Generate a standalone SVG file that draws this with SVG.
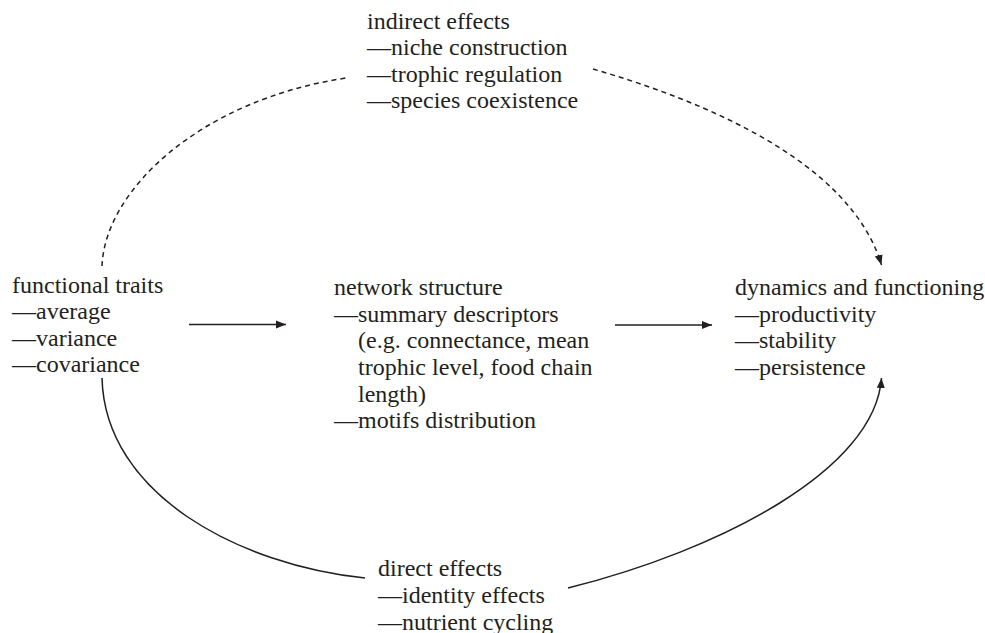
<svg xmlns="http://www.w3.org/2000/svg" width="985" height="633" viewBox="0 0 985 633">
<style>
text{font-family:"Liberation Serif","Times New Roman",serif;font-size:24px;fill:#231f20}
.c{fill:none;stroke:#231f20;stroke-width:1.5}
.d{stroke-dasharray:5,4}
</style>
<defs>
<marker id="ah" viewBox="0 0 10 10" refX="10" refY="5" markerWidth="10" markerHeight="10" markerUnits="userSpaceOnUse" orient="auto">
<path d="M0,1 L10,5 L0,9 Z" fill="#231f20"/>
</marker>
</defs>
<rect width="985" height="633" fill="#fff"/>
<g id="connectors">
<line class="c" x1="189" y1="324.5" x2="286" y2="324.5" marker-end="url(#ah)"/>
<line class="c" x1="615" y1="325" x2="712" y2="325" marker-end="url(#ah)"/>
<path class="c d" d="M102,266 C105,190 200,100 346,78"/>
<path class="c d" d="M593,69 C700,100 850,160 881.5,265" marker-end="url(#ah)"/>
<path class="c" d="M102,378 C105,495 240,565 365,578"/>
<path class="c" d="M568,588 C720,550 875,470 881.5,378" marker-end="url(#ah)"/>
</g>
<g id="indirect">
<text x="367" y="28.5">indirect effects</text>
<text x="367" y="55">—niche construction</text>
<text x="367" y="81.7">—trophic regulation</text>
<text x="367" y="108.3">—species coexistence</text>
</g>
<g id="traits">
<text x="12" y="292.5">functional traits</text>
<text x="12" y="319">—average</text>
<text x="12" y="345.5">—variance</text>
<text x="12" y="372">—covariance</text>
</g>
<g id="network">
<text x="334" y="295">network structure</text>
<text x="334" y="321.7">—summary descriptors</text>
<text x="358" y="348.3">(e.g. connectance, mean</text>
<text x="358" y="375">trophic level, food chain</text>
<text x="358" y="401.7">length)</text>
<text x="334" y="428.3">—motifs distribution</text>
</g>
<g id="dynamics">
<text x="735" y="295">dynamics and functioning</text>
<text x="735" y="321.7">—productivity</text>
<text x="735" y="348.3">—stability</text>
<text x="735" y="375">—persistence</text>
</g>
<g id="direct">
<text x="378" y="576">direct effects</text>
<text x="378" y="603">—identity effects</text>
<text x="378" y="630">—nutrient cycling</text>
</g>
</svg>
